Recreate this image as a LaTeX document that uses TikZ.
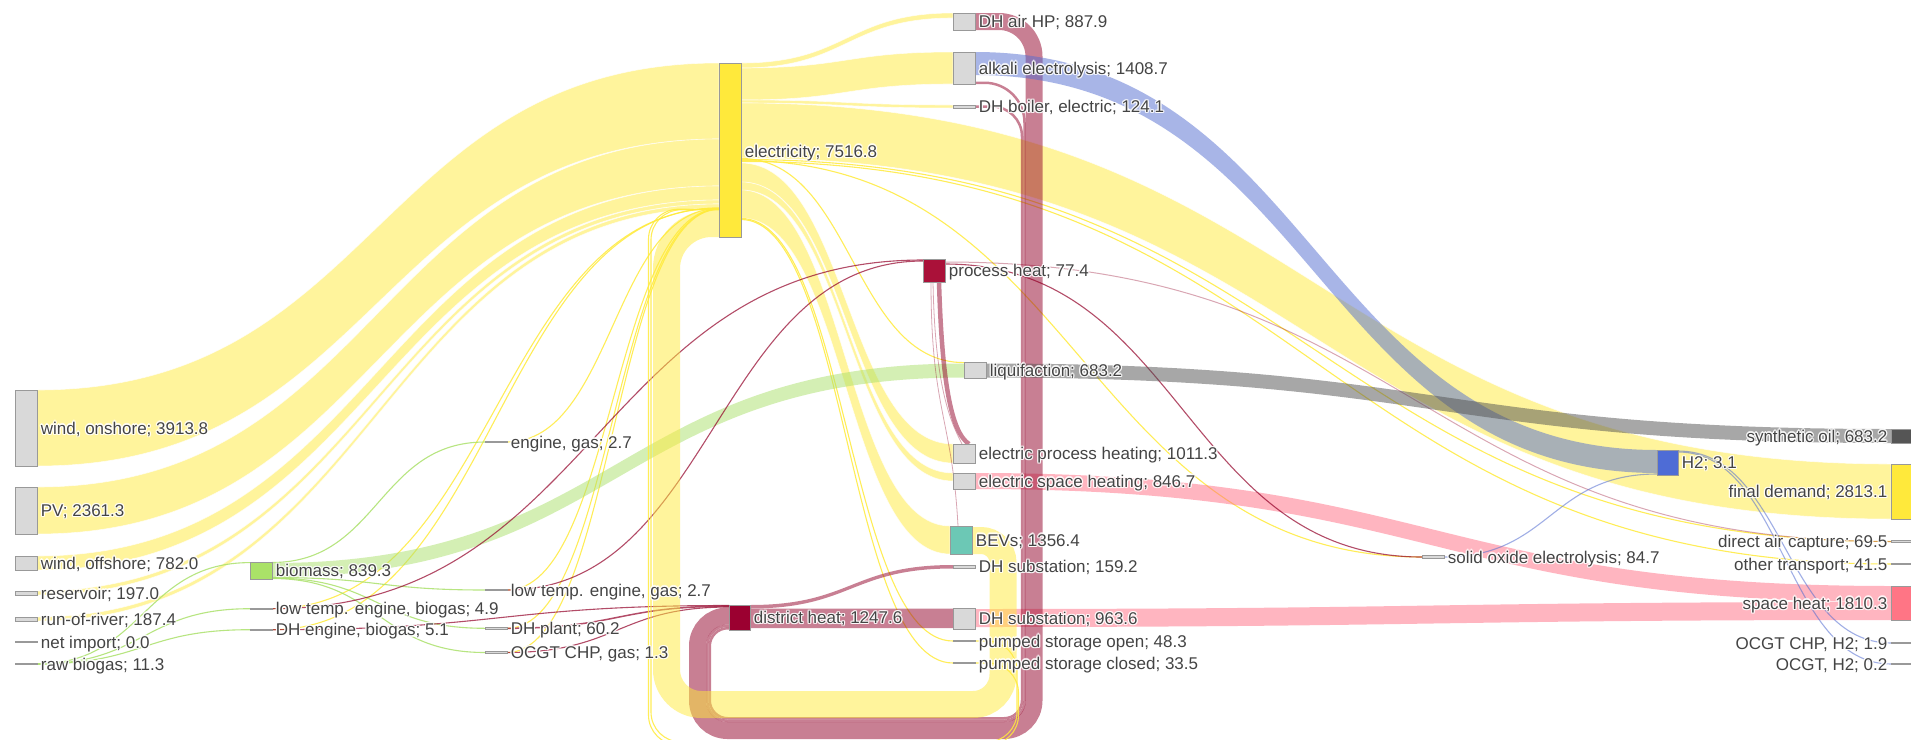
\documentclass[tikz,border=0pt]{standalone}
\usepackage{fontspec}
\setmainfont{Liberation Sans}
\usetikzlibrary{calc}

\definecolor{txt}{HTML}{444444}
\definecolor{ndgray}{HTML}{999999}
\definecolor{ndfill}{HTML}{D9D9D9}
% link colours (drawn at half opacity)
\definecolor{elecY}{RGB}{255,235,59}
\definecolor{heatM}{RGB}{147,0,40}
\definecolor{htwoB}{RGB}{83,109,209}
\definecolor{bioG}{RGB}{171,225,107}
\definecolor{oilK}{RGB}{81,81,81}
\definecolor{spaceP}{RGB}{255,109,131}
% node colours
\definecolor{elecN}{RGB}{255,233,59}
\definecolor{bioN}{RGB}{170,226,104}
\definecolor{dhN}{RGB}{155,0,48}
\definecolor{phN}{RGB}{170,17,57}
\definecolor{bevN}{RGB}{108,200,181}
\definecolor{htwoN}{RGB}{78,108,214}
\definecolor{synN}{RGB}{85,85,85}
\definecolor{shN}{RGB}{255,117,133}

\tikzset{
  nd/.style={rectangle, draw=ndgray, fill=ndfill, line width=0.8pt,
    minimum width=22pt, inner sep=0pt, outer sep=0pt},
  lbl/.style={font=\fontsize{17pt}{20pt}\selectfont, text=txt, inner sep=0pt,
    text height=12.2pt, text depth=0pt},
  lr/.style={lbl, anchor=west},
  ll/.style={lbl, anchor=east},
  ybd/.style={fill=elecY, fill opacity=0.5, draw=white, draw opacity=0.7, line width=0.6pt},
  gbd/.style={fill=bioG, fill opacity=0.5},
  pbd/.style={fill=spaceP, fill opacity=0.5},
  mbd/.style={fill=heatM, fill opacity=0.5},
  bbd/.style={fill=htwoB, fill opacity=0.5},
  kbd/.style={fill=oilK, fill opacity=0.5},
  yln/.style={draw=elecY, opacity=0.85, line width=1.1pt},
  gln/.style={draw=bioG, opacity=0.85, line width=1.1pt},
  mln/.style={draw=heatM, opacity=0.7, line width=1.1pt},
  mlt/.style={draw=heatM, opacity=0.35, line width=1pt},
  bln/.style={draw=htwoB, opacity=0.55, line width=1.1pt},
  yloop/.style={draw=elecY, opacity=0.5},
  mloop/.style={draw=heatM, opacity=0.5},
}

% ribbon from the right side of #1 to the left side of #3,
% offsets measured down from the node tops, #5 = ribbon width
\newcommand\sankeyband[6]{%
  \fill[#6] let \p1=($(#1.north east)+(0,#2)$), \p2=($(#3.north west)+(0,#4)$),
    \n1={(\x1+\x2)/2} in
    (\p1) .. controls ({\n1*1pt},\y1) and ({\n1*1pt},\y2) .. (\p2)
    -- (\x2,{\y2-#5pt}) .. controls ({\n1*1pt},{\y2-#5pt}) and ({\n1*1pt},{\y1-#5pt}) .. (\x1,{\y1-#5pt})
    -- cycle;}
% hairline flow between the same sides
\newcommand\sankeyline[5]{%
  \draw[#5] let \p1=($(#1.north east)+(0,#2)$), \p2=($(#3.north west)+(0,#4)$),
    \n1={(\x1+\x2)/2} in
    (\p1) .. controls ({\n1*1pt},\y1) and ({\n1*1pt},\y2) .. (\p2);}
% node box: [options]{name}{x}{y}{height}
\newcommand\nd[5][]{\node[nd, minimum height=#5pt, #1] (#2) at (#3,#4) {};}
% label with a soft white halo: {style}{name}{position}{text}
\newcommand\lab[4]{%
  \foreach \dx/\dy in {1/1,1/-1,-1/1,-1/-1,1.2/0,-1.2/0,0/1.2,0/-1.2}
    {\node[#1, text=white, text opacity=0.75, xshift=\dx pt, yshift=\dy pt] at #3 {#4};}
  \node[#1] (#2) at #3 {#4};}

\begin{document}
\begin{tikzpicture}[x=1pt,y=-1pt]
\fill[white] (0,0) rectangle (1911,739);
\useasboundingbox (0,0) rectangle (1911,739);

% ---------- nodes (placed first so links can refer to them) ----------
\nd{won}{26}{428}{76}
\nd{pv}{26}{510.5}{47}
\nd{woff}{26}{563}{14}
\nd{res}{26}{593}{4}
\nd{ror}{26}{619}{4}
\nd{nimp}{26}{642}{1.5}
\nd{rbg}{26}{664}{1.5}
\nd[fill=bioN]{bio}{261}{570.5}{17}
\nd{ltb}{261}{608.7}{1.5}
\nd{dhb}{261}{629.7}{1.5}
\nd{eng}{496}{442}{1.5}
\nd{ltg}{496}{590}{1.5}
\nd{dhp}{496}{628.3}{2.5}
\nd{ocg}{496}{652.5}{1.5}
\nd[fill=elecN]{elec}{730}{150}{174}
\nd[fill=dhN, minimum width=21pt]{dh}{739.5}{617.5}{25}
\nd{airhp}{964}{21.5}{17}
\nd{alk}{964}{68}{32}
\nd{boil}{964}{106.5}{3}
\nd[fill=phN]{ph}{934}{270.5}{23}
\nd{liq}{975}{370}{16}
\nd{eph}{964}{453.5}{19}
\nd{esh}{964}{481}{16}
\nd[fill=bevN]{bev}{961}{540}{28}
\nd{dhsa}{964}{566.5}{3}
\nd{dhsb}{964}{618.5}{21}
\nd{pso}{964}{641}{1.5}
\nd{psc}{964}{663}{1.5}
\nd{soe}{1433}{557}{2.5}
\nd[fill=htwoN, minimum width=21pt]{htwo}{1667.5}{462.5}{25}
\nd[fill=synN]{syn}{1902}{436}{14}
\nd[fill=elecN]{fd}{1902}{491.5}{55}
\nd{dac}{1902}{541.5}{1.5}
\nd{ot}{1902}{564}{1.5}
\nd[fill=shN]{sh}{1902}{603}{34}
\nd{ocgth}{1902}{643}{1.5}
\nd{ocgt}{1902}{664}{1.5}

% ---------- electricity in ----------
\sankeyband{won}{0}{elec}{0}{76}{ybd}
\sankeyband{pv}{0}{elec}{76}{47}{ybd}
\sankeyband{woff}{0}{elec}{123}{14}{ybd}
\sankeyband{res}{0}{elec}{137}{4}{ybd}
\sankeyband{ror}{0}{elec}{141}{4}{ybd}

% ---------- electricity out ----------
\sankeyband{elec}{0}{airhp}{0}{5}{ybd}
\sankeyband{elec}{5}{alk}{0}{32}{ybd}
\sankeyband{elec}{37}{boil}{0}{3}{ybd}
\sankeyband{elec}{40}{fd}{0}{55}{ybd}
\sankeyband{elec}{100}{eph}{0}{19}{ybd}
\sankeyband{elec}{119}{esh}{0}{8}{ybd}
\sankeyband{elec}{127}{bev}{0}{28}{ybd}
\sankeyline{elec}{95.5}{liq}{0.6}{yln}
\sankeyline{elec}{96.5}{dac}{0.75}{yln}
\sankeyline{elec}{97.5}{soe}{1.25}{yln}
\sankeyline{elec}{98.5}{ot}{0.75}{yln}
\sankeyline{elec}{155.5}{pso}{0.75}{yln}
\sankeyline{elec}{156.5}{psc}{0.75}{yln}

% ---------- small plants feeding electricity ----------
\sankeyline{dhb}{0.75}{elec}{144.9}{yln}
\sankeyline{ltb}{0.75}{elec}{145.2}{yln}
\sankeyline{eng}{0.75}{elec}{145.5}{yln}
\sankeyline{ltg}{0.75}{elec}{145.8}{yln}
\sankeyline{dhp}{1.25}{elec}{146.1}{yln}
\sankeyline{ocg}{0.75}{elec}{146.4}{yln}

% ---------- biomass and biogas ----------
\sankeyband{bio}{1}{liq}{1.5}{14}{gbd}
\sankeyline{bio}{0.5}{eng}{0.75}{gln}
\sankeyline{bio}{15.5}{ltg}{0.75}{gln}
\sankeyline{bio}{16}{dhp}{1.25}{gln}
\sankeyline{bio}{16.5}{ocg}{0.75}{gln}
\sankeyline{rbg}{0.75}{bio}{0.6}{gln}
\sankeyline{rbg}{0.75}{ltb}{0.75}{gln}
\sankeyline{rbg}{0.75}{dhb}{0.75}{gln}

% ---------- space heat ----------
\sankeyband{esh}{0}{sh}{0}{16}{pbd}
\sankeyband{dhsb}{1}{sh}{16}{18}{pbd}

% ---------- heat ----------
\sankeyline{ltb}{0.75}{ph}{1}{mln}
\sankeyline{ltg}{0.75}{ph}{2}{mln}
\sankeyline{dhb}{0.75}{dh}{0.5}{mln}
\sankeyline{dhp}{1.25}{dh}{1.2}{mln, line width=1.5pt}
\sankeyline{ocg}{0.75}{dh}{2}{mln}
\sankeyline{ph}{3}{dac}{0.75}{mlt}
\sankeyline{ph}{5}{soe}{1.25}{mln}
\sankeyband{dh}{0}{dhsa}{0}{3.5}{mbd}
\sankeyband{dh}{3.5}{dhsb}{0.5}{19.5}{mbd}
\draw[mloop, line width=4.5pt] ($(ph.south east)+(-6,0)$)
  .. controls +(3,100) and +(-18,-12) .. ($(eph.north east)+(-6,0)$);
\draw[mlt, line width=0.8pt] ($(ph.south)+(-1,0)$)
  .. controls +(2,110) and +(-10,-20) .. ($(eph.north east)+(-13,0)$);
\draw[mlt, line width=0.8pt] ($(ph.south)+(-3,0)$)
  .. controls +(0,130) and +(-6,-110) .. ($(bev.north)+(-3,0)$);

% heat loops back to district heat
\draw[mloop, line width=17pt] ($(airhp.north east)+(0,8.5)$) -- (999,21.5)
  .. controls (1018.3,21.5) and (1034,37.2) .. (1034,56.5) -- (1034,700.5)
  .. controls (1034,717.1) and (1020.6,730.5) .. (1004,730.5) -- (727.5,730.5)
  .. controls (710.9,730.5) and (697.5,717.1) .. (697.5,700.5) -- (697.5,646)
  .. controls (697.5,629.4) and (710.9,616) .. (727.5,616) -- ($(dh.north west)+(0,11)$);
\draw[mloop, line width=2.5pt] ($(alk.north east)+(0,30.75)$) -- (984.5,82.75)
  .. controls (1006.6,82.75) and (1024.5,100.6) .. (1024.5,122.75) -- (1024.5,700.75)
  .. controls (1024.5,711.8) and (1015.5,720.75) .. (1004.5,720.75) -- (727.25,720.75)
  .. controls (716.2,720.75) and (707.25,711.8) .. (707.25,700.75) -- (707.25,645.75)
  .. controls (707.25,634.7) and (716.2,625.75) .. (727.25,625.75) -- ($(dh.north west)+(0,20.75)$);
\draw[mloop, line width=2.5pt] ($(boil.north east)+(0,1.5)$) -- (992,106.5)
  .. controls (1008.6,106.5) and (1022,119.9) .. (1022,136.5) -- (1022,700.25)
  .. controls (1022,710.2) and (1014,718.25) .. (1004,718.25) -- (727.75,718.25)
  .. controls (717.8,718.25) and (709.75,710.2) .. (709.75,700.25) -- (709.75,646.25)
  .. controls (709.75,636.3) and (717.8,628.25) .. (727.75,628.25) -- ($(dh.north west)+(0,23.25)$);

% ---------- hydrogen and oil ----------
\sankeyband{alk}{0}{htwo}{0}{23}{bbd}
\sankeyline{soe}{1.25}{htwo}{24}{bln}
\sankeyline{htwo}{1}{ocgth}{0.75}{bln}
\sankeyline{htwo}{2}{ocgt}{0.75}{bln}
\sankeyband{liq}{1.5}{syn}{0}{14}{kbd}

% ---------- storage and vehicles back to electricity ----------
\draw[yln, rounded corners=30pt] (pso.east) -- (1017,641) -- (1017,742) -- (651,742)
  -- (651,209.8) -- ($(elec.north west)+(0,146.8)$);
\draw[yln, rounded corners=30pt] (psc.east) -- (1018.5,663) -- (1018.5,745) -- (648.5,745)
  -- (648.5,209.2) -- ($(elec.north west)+(0,146.2)$);
\draw[yloop, line width=27pt] ($(bev.north east)+(0,14.5)$) -- (981,540.5)
  .. controls (993.1,540.5) and (1003,550.4) .. (1003,562.5) -- (1003,674.5)
  .. controls (1003,691.1) and (989.6,704.5) .. (973,704.5) -- (701.5,704.5)
  .. controls (682.2,704.5) and (666.5,688.8) .. (666.5,669.5) -- (666.5,268.5)
  .. controls (666.5,243.7) and (686.7,223.5) .. (711.5,223.5) -- ($(elec.north west)+(0,160.5)$);

% ---------- redraw node boxes on top of the links ----------
\foreach \n in {won,pv,woff,res,ror,nimp,rbg,ltb,dhb,eng,ltg,dhp,ocg,airhp,alk,boil,
  liq,eph,esh,dhsa,dhsb,pso,psc,soe,dac,ot,ocgth,ocgt}
  \draw[ndgray, fill=ndfill, line width=0.8pt] (\n.north west) rectangle (\n.south east);
\draw[ndgray, fill=bioN, line width=0.8pt] (bio.north west) rectangle (bio.south east);
\draw[ndgray, fill=elecN, line width=0.8pt] (elec.north west) rectangle (elec.south east);
\draw[ndgray, fill=elecN, line width=0.8pt] (fd.north west) rectangle (fd.south east);
\draw[ndgray, fill=dhN, line width=0.8pt] (dh.north west) rectangle (dh.south east);
\draw[ndgray, fill=phN, line width=0.8pt] (ph.north west) rectangle (ph.south east);
\draw[ndgray, fill=bevN, line width=0.8pt] (bev.north west) rectangle (bev.south east);
\draw[ndgray, fill=htwoN, line width=0.8pt] (htwo.north west) rectangle (htwo.south east);
\draw[ndgray, fill=synN, line width=0.8pt] (syn.north west) rectangle (syn.south east);
\draw[ndgray, fill=shN, line width=0.8pt] (sh.north west) rectangle (sh.south east);

% ---------- labels ----------
\lab{lr}{won-t}{($(won.east)+(3.7,0)$)}{wind, onshore; 3913.8}
\lab{lr}{pv-t}{($(pv.east)+(3.7,0)$)}{PV; 2361.3}
\lab{lr}{woff-t}{($(woff.east)+(3.7,0)$)}{wind, offshore; 782.0}
\lab{lr}{res-t}{($(res.east)+(3.7,0)$)}{reservoir; 197.0}
\lab{lr}{ror-t}{($(ror.east)+(3.7,0)$)}{run-of-river; 187.4}
\lab{lr}{nimp-t}{($(nimp.east)+(3.7,0)$)}{net import; 0.0}
\lab{lr}{rbg-t}{($(rbg.east)+(3.7,0)$)}{raw biogas; 11.3}
\lab{lr}{bio-t}{($(bio.east)+(3.7,0)$)}{biomass; 839.3}
\lab{lr}{ltb-t}{($(ltb.east)+(3.7,0)$)}{low temp. engine, biogas; 4.9}
\lab{lr}{dhb-t}{($(dhb.east)+(3.7,0)$)}{DH engine, biogas; 5.1}
\lab{lr}{eng-t}{($(eng.east)+(3.7,0)$)}{engine, gas; 2.7}
\lab{lr}{ltg-t}{($(ltg.east)+(3.7,0)$)}{low temp. engine, gas; 2.7}
\lab{lr}{dhp-t}{($(dhp.east)+(3.7,0)$)}{DH plant; 60.2}
\lab{lr}{ocg-t}{($(ocg.east)+(3.7,0)$)}{OCGT CHP, gas; 1.3}
\lab{lr}{elec-t}{($(elec.east)+(3.7,1)$)}{electricity; 7516.8}
\lab{lr}{dh-t}{($(dh.east)+(3.7,0)$)}{district heat; 1247.6}
\lab{lr}{airhp-t}{($(airhp.east)+(3.7,0)$)}{DH air HP; 887.9}
\lab{lr}{alk-t}{($(alk.east)+(3.7,0)$)}{alkali electrolysis; 1408.7}
\lab{lr}{boil-t}{($(boil.east)+(3.7,0)$)}{DH boiler, electric; 124.1}
\lab{lr}{ph-t}{($(ph.east)+(3.7,0)$)}{process heat; 77.4}
\lab{lr}{liq-t}{($(liq.east)+(3.7,0)$)}{liquifaction; 683.2}
\lab{lr}{eph-t}{($(eph.east)+(3.7,0)$)}{electric process heating; 1011.3}
\lab{lr}{esh-t}{($(esh.east)+(3.7,0)$)}{electric space heating; 846.7}
\lab{lr}{bev-t}{($(bev.east)+(3.7,0)$)}{BEVs; 1356.4}
\lab{lr}{dhsa-t}{($(dhsa.east)+(3.7,0)$)}{DH substation; 159.2}
\lab{lr}{dhsb-t}{($(dhsb.east)+(3.7,0)$)}{DH substation; 963.6}
\lab{lr}{pso-t}{($(pso.east)+(3.7,0)$)}{pumped storage open; 48.3}
\lab{lr}{psc-t}{($(psc.east)+(3.7,0)$)}{pumped storage closed; 33.5}
\lab{lr}{soe-t}{($(soe.east)+(3.7,0)$)}{solid oxide electrolysis; 84.7}
\lab{lr}{htwo-t}{($(htwo.east)+(3.7,0)$)}{H2; 3.1}
\lab{ll}{syn-t}{($(syn.west)+(-3.5,0)$)}{synthetic oil; 683.2}
\lab{ll}{fd-t}{($(fd.west)+(-3.5,0)$)}{final demand; 2813.1}
\lab{ll}{dac-t}{($(dac.west)+(-3.5,0)$)}{direct air capture; 69.5}
\lab{ll}{ot-t}{($(ot.west)+(-3.5,0)$)}{other transport; 41.5}
\lab{ll}{sh-t}{($(sh.west)+(-3.5,0)$)}{space heat; 1810.3}
\lab{ll}{ocgth-t}{($(ocgth.west)+(-3.5,0)$)}{OCGT CHP, H2; 1.9}
\lab{ll}{ocgt-t}{($(ocgt.west)+(-3.5,0)$)}{OCGT, H2; 0.2}
\end{tikzpicture}
\end{document}
